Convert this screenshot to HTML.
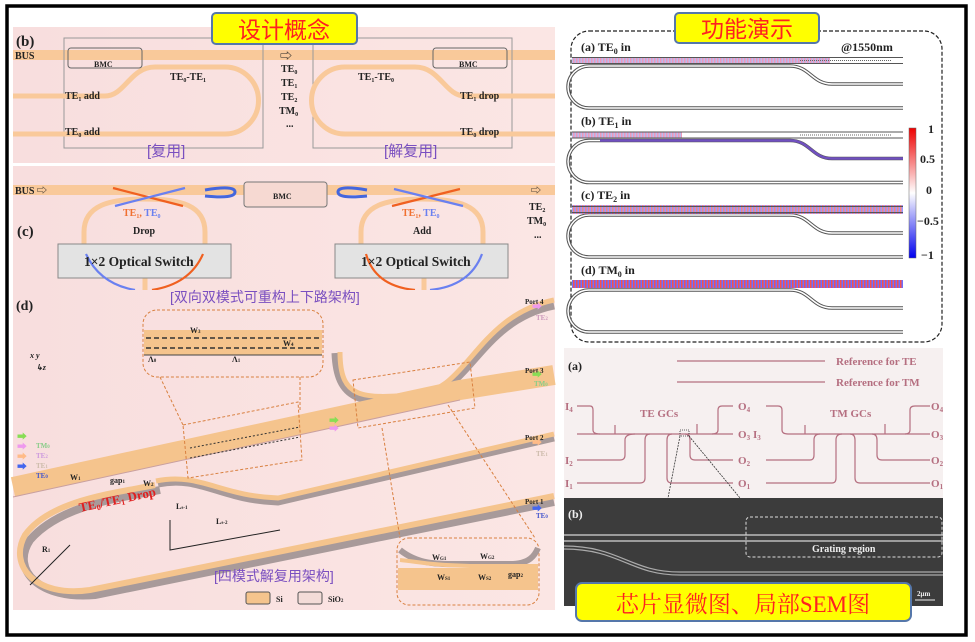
<!DOCTYPE html>
<html><head><meta charset="utf-8"><style>
body{margin:0;background:#fff}
svg{display:block}
text{font-family:"Liberation Serif","Noto Serif CJK SC",serif;font-weight:bold}
.cn{font-family:"Liberation Sans","Noto Sans CJK SC",sans-serif;font-weight:normal}
</style></head><body>
<svg width="975" height="642" viewBox="0 0 975 642" xmlns="http://www.w3.org/2000/svg">
<defs>
<pattern id="fld" width="3" height="6" patternUnits="userSpaceOnUse"><rect width="1.5" height="6" fill="#e33"/><rect x="1.5" width="1.5" height="6" fill="#55f"/></pattern>
<pattern id="fldw" width="3" height="6" patternUnits="userSpaceOnUse"><rect width="1.5" height="6" fill="#e9b"/><rect x="1.5" width="1.5" height="6" fill="#bbe"/></pattern>
<linearGradient id="pk" x1="0" x2="1"><stop offset="0" stop-color="#f8dede"/><stop offset="1" stop-color="#fbe6e4"/></linearGradient>
</defs>
<rect width="975" height="642" fill="#fff"/>
<rect x="7" y="6" width="959" height="629" fill="none" stroke="#000" stroke-width="3.5"/>

<!-- panel b -->
<rect x="13" y="27" width="542" height="136" fill="url(#pk)"/>
<rect x="13" y="50" width="542" height="10" fill="#f9c99a"/>
<rect x="64" y="38" width="199" height="110" fill="none" stroke="#999" stroke-width="1"/>
<rect x="313" y="38" width="199" height="110" fill="none" stroke="#999" stroke-width="1"/>
<g fill="none" stroke="#f9c99a" stroke-width="5">
<path d="M13 96 H105 C125 96 130 67 155 67 H225 A33 33 0 0 1 225 134 H13"/>
<path d="M555 96 H465 C445 96 440 67 415 67 H345 A33 33 0 0 0 345 134 H555"/>
</g>
<rect x="68" y="48" width="74" height="20" rx="3" fill="none" stroke="#666"/>
<rect x="433" y="48" width="74" height="20" rx="3" fill="none" stroke="#666"/>
<g font-size="10" fill="#222">
<text x="16" y="46" font-size="15">(b)</text>
<text x="15" y="59" font-size="10">BUS</text>
<text x="94" y="67" font-size="8">BMC</text><text x="459" y="67" font-size="8">BMC</text>
<text x="170" y="80">TE<tspan font-size="6" dy="2">0</tspan><tspan dy="-2">-TE</tspan><tspan font-size="6" dy="2">1</tspan></text>
<text x="358" y="80">TE<tspan font-size="6" dy="2">1</tspan><tspan dy="-2">-TE</tspan><tspan font-size="6" dy="2">0</tspan></text>
<text x="65" y="99">TE<tspan font-size="6" dy="2">1</tspan><tspan dy="-2"> add</tspan></text>
<text x="65" y="135">TE<tspan font-size="6" dy="2">0</tspan><tspan dy="-2"> add</tspan></text>
<text x="460" y="99">TE<tspan font-size="6" dy="2">1</tspan><tspan dy="-2"> drop</tspan></text>
<text x="460" y="135">TE<tspan font-size="6" dy="2">0</tspan><tspan dy="-2"> drop</tspan></text>
<text x="280" y="60" font-size="12" font-weight="normal">⇨</text>
<text x="281" y="72">TE<tspan font-size="6" dy="2">0</tspan></text>
<text x="281" y="86">TE<tspan font-size="6" dy="2">1</tspan></text>
<text x="281" y="100">TE<tspan font-size="6" dy="2">2</tspan></text>
<text x="279" y="114">TM<tspan font-size="6" dy="2">0</tspan></text>
<text x="286" y="127">...</text>
</g>
<text class="cn" x="147" y="156" font-size="15" fill="#7a4fc0">[复用]</text>
<text class="cn" x="384" y="156" font-size="15" fill="#7a4fc0">[解复用]</text>

<!-- panel c -->
<rect x="13" y="166" width="542" height="124" fill="url(#pk)"/>
<rect x="13" y="185" width="542" height="10" fill="#f9c99a"/>
<g fill="none" stroke="#f9c99a" stroke-width="5">
<path d="M84 244 V232 C84 205 110 199 145 199 C180 199 205 205 205 232 V244"/>
<path d="M361 244 V232 C361 205 387 199 422 199 C457 199 483 205 483 232 V244"/>
<path d="M145 278 V290 M424 278 V290"/>
</g>
<rect x="244" y="182" width="83" height="25" rx="3" fill="#f6d9d2" stroke="#777"/>
<rect x="58" y="244" width="173" height="34" fill="#e3e3e3" stroke="#888"/>
<rect x="335" y="244" width="173" height="34" fill="#e3e3e3" stroke="#888"/>
<g fill="none" stroke-width="2.2">
<path d="M113 188 L183 206" stroke="#f06020"/><path d="M185 188 L115 206" stroke="#6a80f0"/>
<path d="M392 206 L460 189" stroke="#f06020"/><path d="M394 189 L463 206" stroke="#6a80f0"/>
<path d="M205 190 Q235 185 235 192 Q235 199 205 196" stroke="#4466dd" stroke-width="3"/>
<path d="M367 190 Q338 185 338 192 Q338 199 367 196" stroke="#4466dd" stroke-width="3"/>
<path d="M86 254 Q100 284 135 290" stroke="#6a80f0"/><path d="M203 254 Q190 284 152 290" stroke="#f06020"/>
<path d="M366 254 Q375 286 415 290" stroke="#f06020"/><path d="M482 254 Q470 286 430 290" stroke="#6a80f0"/>
</g>
<g font-size="10" fill="#222">
<text x="15" y="194">BUS ⇨</text>
<text x="273" y="199" font-size="8">BMC</text>
<text x="17" y="236" font-size="15">(c)</text>
<text x="123" y="216" fill="#f07030">TE<tspan font-size="6" dy="2">1</tspan><tspan dy="-2">, </tspan><tspan fill="#6a80f0">TE<tspan font-size="6" dy="2">0</tspan></tspan></text>
<text x="133" y="234">Drop</text>
<text x="402" y="216" fill="#f07030">TE<tspan font-size="6" dy="2">1</tspan><tspan dy="-2">, </tspan><tspan fill="#6a80f0">TE<tspan font-size="6" dy="2">0</tspan></tspan></text>
<text x="413" y="234">Add</text>
<text x="531" y="194" font-weight="normal">⇨</text>
<text x="529" y="210">TE<tspan font-size="6" dy="2">2</tspan></text>
<text x="527" y="224">TM<tspan font-size="6" dy="2">0</tspan></text>
<text x="534" y="238">...</text>
<text x="84" y="266" font-size="13.5">1×2 Optical Switch</text>
<text x="361" y="266" font-size="13.5">1×2 Optical Switch</text>
</g>

<!-- panel d -->
<rect x="13" y="290" width="542" height="320" fill="url(#pk)"/>
<text class="cn" x="170" y="302" font-size="14" fill="#7a4fc0">[双向双模式可重构上下路架构]</text>
<g fill="none" stroke-linecap="butt">
<path d="M336 353 C338 400 360 405 420 398 C470 390 480 320 554 305" stroke="#a89a9a" stroke-width="9"/>
<path d="M340 352 C340 398 360 400 420 394 C468 388 478 316 554 300" stroke="#f5c48d" stroke-width="5"/>
<path d="M13 487 L460 390 L554 375" stroke="#f5c48d" stroke-width="20"/>
<path d="M13 497 L460 400" stroke="#c9a0a0" stroke-width="1"/>
<path d="M160 490 C120 498 60 505 30 540 C10 570 40 600 95 595 L554 502" stroke="#a89a9a" stroke-width="8"/>
<path d="M155 485 C115 493 50 500 25 535 C8 565 35 598 90 590 L554 496" stroke="#f5c48d" stroke-width="6"/>
<path d="M158 484 C200 475 220 500 278 502 L554 438" stroke="#a89a9a" stroke-width="7"/>
<path d="M156 481 C200 472 220 496 278 498 L554 434" stroke="#f5c48d" stroke-width="5"/>
<g stroke="#d98040" stroke-width="1" stroke-dasharray="3 2">
<rect x="143" y="310" width="180" height="67" rx="14"/>
<path d="M160 377 L183 425 M300 377 L300 410"/>
<path d="M183 425 L298 402 L302 460 L188 478 Z"/>
<path d="M353 380 L470 362 L475 408 L358 428 Z"/>
<path d="M382 428 L400 538 M448 405 L535 538"/>
<rect x="397" y="538" width="142" height="67" rx="12"/>
</g>
<rect x="144" y="330" width="178" height="25" fill="#f5c48d" stroke="none"/>
<path d="M146 338 H321 M146 348 H321" stroke="#333" stroke-width="1.5" stroke-dasharray="5 3"/>
<path d="M190 448 L300 427 M190 458 L300 437" stroke="#333" stroke-width="1" stroke-dasharray="2 2"/>
<path d="M144 355 H322" stroke="#444"/>
<rect x="398" y="568" width="140" height="22" fill="#f5c48d" stroke="none"/>
<path d="M400 550 C420 566 440 564 470 564 H510 C530 564 535 555 538 548" stroke="#a89a9a" stroke-width="6"/>
<path d="M400 560 C420 562 430 565 470 566 H538" stroke="#f5c48d" stroke-width="4"/>
<path d="M30 585 L70 545 M170 520 V550 L280 530" stroke="#222" stroke-width="1"/>
</g>
<g fill="#222" font-size="8">
<text x="16" y="310" font-size="14">(d)</text>
<text x="30" y="358" font-style="italic">x y</text><text x="36" y="370" font-style="italic">↳z</text>
<text x="70" y="480">W<tspan font-size="5">1</tspan></text>
<text x="110" y="483">gap<tspan font-size="5">1</tspan></text>
<text x="143" y="486">W<tspan font-size="5">2</tspan></text>
<text x="176" y="509">L<tspan font-size="5">s-1</tspan></text>
<text x="216" y="524">L<tspan font-size="5">s-2</tspan></text>
<text x="42" y="552">R<tspan font-size="5">1</tspan></text>
<text x="80" y="512" font-size="13" fill="#e02020" transform="rotate(-12 80 512)">TE<tspan font-size="8" dy="2">0</tspan><tspan dy="-2">/TE</tspan><tspan font-size="8" dy="2">1</tspan><tspan dy="-2"> Drop</tspan></text>
<text x="190" y="333">W<tspan font-size="5">3</tspan></text><text x="283" y="346">W<tspan font-size="5">4</tspan></text>
<text x="148" y="362">Λ<tspan font-size="5">0</tspan></text><text x="232" y="362">Λ<tspan font-size="5">1</tspan></text>
<text x="525" y="304" font-size="7">Port 4</text><text x="525" y="373" font-size="7">Port 3</text>
<text x="525" y="440" font-size="7">Port 2</text><text x="525" y="504" font-size="7">Port 1</text>
<text x="534" y="386" fill="#8c8" font-size="7">TM<tspan font-size="5">0</tspan></text>
<text x="536" y="320" fill="#c9b" font-size="7">TE<tspan font-size="5">2</tspan></text>
<text x="536" y="456" fill="#cba" font-size="7">TE<tspan font-size="5">1</tspan></text>
<text x="536" y="518" fill="#45c" font-size="7">TE<tspan font-size="5">0</tspan></text>
<text x="36" y="448" fill="#8c8" font-size="7">TM<tspan font-size="5">0</tspan></text>
<text x="36" y="458" fill="#c9d" font-size="7">TE<tspan font-size="5">2</tspan></text>
<text x="36" y="468" fill="#cba" font-size="7">TE<tspan font-size="5">1</tspan></text>
<text x="36" y="478" fill="#45c" font-size="7">TE<tspan font-size="5">0</tspan></text>
<text x="437" y="580">W<tspan font-size="5">S1</tspan></text><text x="478" y="580">W<tspan font-size="5">S2</tspan></text>
<text x="432" y="560">W<tspan font-size="5">G1</tspan></text><text x="480" y="559">W<tspan font-size="5">G2</tspan></text>
<text x="508" y="577">gap<tspan font-size="5">2</tspan></text>
<text x="276" y="602">Si</text><text x="328" y="602">SiO<tspan font-size="5">2</tspan></text>
</g>
<g font-size="10" font-weight="normal">
<text x="17" y="440" fill="#8d5">➡</text><text x="17" y="450" fill="#e9e">➡</text>
<text x="17" y="460" fill="#fb8">➡</text><text x="17" y="470" fill="#46e">➡</text>
<text x="329" y="424" fill="#8d5">➡</text><text x="329" y="432" fill="#e9e">➡</text>
<text x="532" y="310" fill="#e9e">➡</text><text x="532" y="378" fill="#8d5">➡</text>
<text x="532" y="446" fill="#fb8">➡</text><text x="532" y="512" fill="#46e">➡</text>
</g>
<rect x="246" y="592" width="24" height="12" rx="2" fill="#f5c48d" stroke="#555"/>
<rect x="298" y="592" width="24" height="12" rx="2" fill="#f3dcd8" stroke="#555"/>
<text class="cn" x="214" y="581" font-size="14" fill="#7a4fc0">[四模式解复用架构]</text>

<rect x="212" y="13" width="145" height="31" rx="4" fill="#ffff00" stroke="#5577aa" stroke-width="2"/>
<text class="cn" x="284" y="38" font-size="23" fill="#ff2020" text-anchor="middle">设计概念</text>

<rect x="571" y="31" width="371" height="311" rx="18" fill="#fff" stroke="#222" stroke-width="1.2" stroke-dasharray="4 2"/>
<g fill="none">
<g>
<rect x="572" y="58" width="258" height="5" fill="url(#fldw)"/>
<path d="M572 57.5 H903 M572 63.5 H903" stroke="#555"/>
<path d="M800 60.5 H891" stroke="#666" stroke-dasharray="1 1"/>
<path d="M790 66 H589 A21 21 0 0 0 589 108 H903 M790 66 C810 66 812 84 832 84 H903" stroke="#555" stroke-width="3.5"/>
<path d="M790 66 H589 A21 21 0 0 0 589 108 H903 M790 66 C810 66 812 84 832 84 H903" stroke="#fff" stroke-width="1.5"/>
</g>
<g transform="translate(0,74.5)">
<rect x="572" y="58" width="110" height="5" fill="url(#fldw)"/>
<path d="M572 57.5 H903 M572 63.5 H903" stroke="#555"/>
<path d="M800 60.5 H891" stroke="#666" stroke-dasharray="1 1"/>
<path d="M790 66 H589 A21 21 0 0 0 589 108 H903 M790 66 C810 66 812 84 832 84 H903" stroke="#555" stroke-width="3.5"/>
<path d="M790 66 H589 A21 21 0 0 0 589 108 H903 M790 66 C810 66 812 84 832 84 H903" stroke="#fff" stroke-width="1.5"/>
<path d="M600 66 H790 C810 66 812 84 832 84 H903" stroke="#7050c0" stroke-width="2.5"/>
</g>
<g transform="translate(0,149)">
<path d="M790 66 H589 A21 21 0 0 0 589 108 H903 M790 66 C810 66 812 84 832 84 H903" stroke="#555" stroke-width="3.5"/>
<path d="M790 66 H589 A21 21 0 0 0 589 108 H903 M790 66 C810 66 812 84 832 84 H903" stroke="#fff" stroke-width="1.5"/>
<rect x="572" y="56" width="331" height="9" fill="url(#fld)" opacity="0.6"/>
<path d="M572 57.5 H903 M572 63.5 H903" stroke="#555"/>
</g>
<g transform="translate(0,224)">
<path d="M790 66 H589 A21 21 0 0 0 589 108 H903 M790 66 C810 66 812 84 832 84 H903" stroke="#555" stroke-width="3.5"/>
<path d="M790 66 H589 A21 21 0 0 0 589 108 H903 M790 66 C810 66 812 84 832 84 H903" stroke="#fff" stroke-width="1.5"/>
<rect x="572" y="56" width="331" height="8" fill="url(#fld)" opacity="0.85"/>
</g>
</g>
<defs><linearGradient id="cb" x1="0" y1="0" x2="0" y2="1"><stop offset="0" stop-color="#e00"/><stop offset="0.5" stop-color="#fff"/><stop offset="1" stop-color="#00e"/></linearGradient></defs>
<rect x="909" y="128" width="7" height="130" fill="url(#cb)" stroke="#666" stroke-width="0.5"/>
<g font-size="12" fill="#222">
<text x="928" y="133">1</text><text x="920" y="163">0.5</text><text x="926" y="194">0</text><text x="917" y="225">−0.5</text><text x="921" y="259">−1</text>
<text x="581" y="51">(a) TE<tspan font-size="8" dy="3">0</tspan><tspan dy="-3"> in</tspan></text>
<text x="841" y="51">@1550nm</text>
<text x="581" y="125">(b) TE<tspan font-size="8" dy="3">1</tspan><tspan dy="-3"> in</tspan></text>
<text x="581" y="199">(c) TE<tspan font-size="8" dy="3">2</tspan><tspan dy="-3"> in</tspan></text>
<text x="581" y="274">(d) TM<tspan font-size="8" dy="3">0</tspan><tspan dy="-3"> in</tspan></text>
</g>
<rect x="675" y="13" width="144" height="30" rx="4" fill="#ffff00" stroke="#5577aa" stroke-width="2"/>
<text class="cn" x="747" y="37" font-size="23" fill="#ff2020" text-anchor="middle">功能演示</text>

<rect x="564" y="348" width="379" height="150" fill="#f6f0f0"/>
<g fill="none" stroke="#b56f80" stroke-width="1.2">
<path d="M677 361 H825 M677 382 H825"/>
<path d="M577 406 H590 Q593 406 593 410 V430 Q593 434 600 434 H733"/>
<path d="M577 434 H600 M615 434 V425 M697 434 V424"/>
<path d="M577 460 H620 Q625 460 625 455 V440 Q625 434 635 434 M577 483 H640 Q645 483 645 478 V440 Q645 434 650 434"/>
<path d="M733 460 H695 Q690 460 690 455 V440 Q690 434 685 434 M733 483 H672 Q667 483 667 478 V440 Q667 434 672 434"/>
<path d="M733 406 H722 Q718 406 718 410 V430 Q718 434 712 434"/>
<path d="M766 406 H778 Q782 406 782 410 V430 Q782 434 788 434 H930 M805 434 V425 M885 434 V424"/>
<path d="M766 460 H810 Q814 460 814 455 V440 Q814 434 820 434 M766 483 H832 Q836 483 836 478 V440 Q836 434 842 434"/>
<path d="M930 460 H882 Q877 460 877 455 V440 Q877 434 872 434 M930 483 H860 Q855 483 855 478 V440 Q855 434 850 434"/>
<path d="M930 406 H915 Q910 406 910 410 V430 Q910 434 905 434"/>
</g>
<rect x="680" y="430" width="9" height="6" fill="none" stroke="#333" stroke-width="0.8" stroke-dasharray="1 1"/>
<path d="M680 436 L668 498 M689 436 L740 498" stroke="#333" stroke-width="0.8" stroke-dasharray="2 1"/>
<g font-size="11" fill="#b56f80">
<text x="836" y="365">Reference for TE</text><text x="836" y="386">Reference for TM</text>
<text x="640" y="417">TE GCs</text><text x="830" y="417">TM GCs</text>
<text x="565" y="410">I<tspan font-size="7" dy="2">4</tspan></text><text x="565" y="464">I<tspan font-size="7" dy="2">2</tspan></text><text x="565" y="487">I<tspan font-size="7" dy="2">1</tspan></text>
<text x="738" y="410">O<tspan font-size="7" dy="2">4</tspan></text><text x="738" y="438">O<tspan font-size="7" dy="2">3</tspan></text><text x="738" y="464">O<tspan font-size="7" dy="2">2</tspan></text><text x="738" y="487">O<tspan font-size="7" dy="2">1</tspan></text>
<text x="753" y="438">I<tspan font-size="7" dy="2">3</tspan></text>
<text x="931" y="410">O<tspan font-size="7" dy="2">4</tspan></text><text x="931" y="438">O<tspan font-size="7" dy="2">3</tspan></text><text x="931" y="464">O<tspan font-size="7" dy="2">2</tspan></text><text x="931" y="487">O<tspan font-size="7" dy="2">1</tspan></text>
</g>
<text x="568" y="370" font-size="12" fill="#222">(a)</text>
<rect x="564" y="498" width="379" height="108" fill="#3c3c3c"/>
<path d="M564 535 H943 M564 541 H943" stroke="#bbb" stroke-width="1.5"/>
<path d="M564 546 C620 546 630 572 680 572 H943 M564 549 C620 549 630 575 680 575 H943" stroke="#aaa" stroke-width="1.2" fill="none"/>
<rect x="746" y="517" width="196" height="40" rx="4" fill="none" stroke="#ddd" stroke-dasharray="3 2"/>
<text x="812" y="552" font-size="10" fill="#eee">Grating region</text>
<text x="568" y="518" font-size="12" fill="#eee">(b)</text>
<text x="917" y="596" font-size="7" fill="#eee">2μm</text>
<path d="M915 600 H935" stroke="#eee"/>
<rect x="576" y="583" width="335" height="38" rx="6" fill="#ffff00" stroke="#5577aa" stroke-width="2"/>
<text x="743" y="612" font-size="23" fill="#ff2020" text-anchor="middle" style="font-family:'Liberation Serif','Noto Serif CJK SC',serif;font-weight:normal">芯片显微图、局部SEM图</text>
</svg>
</body></html>
